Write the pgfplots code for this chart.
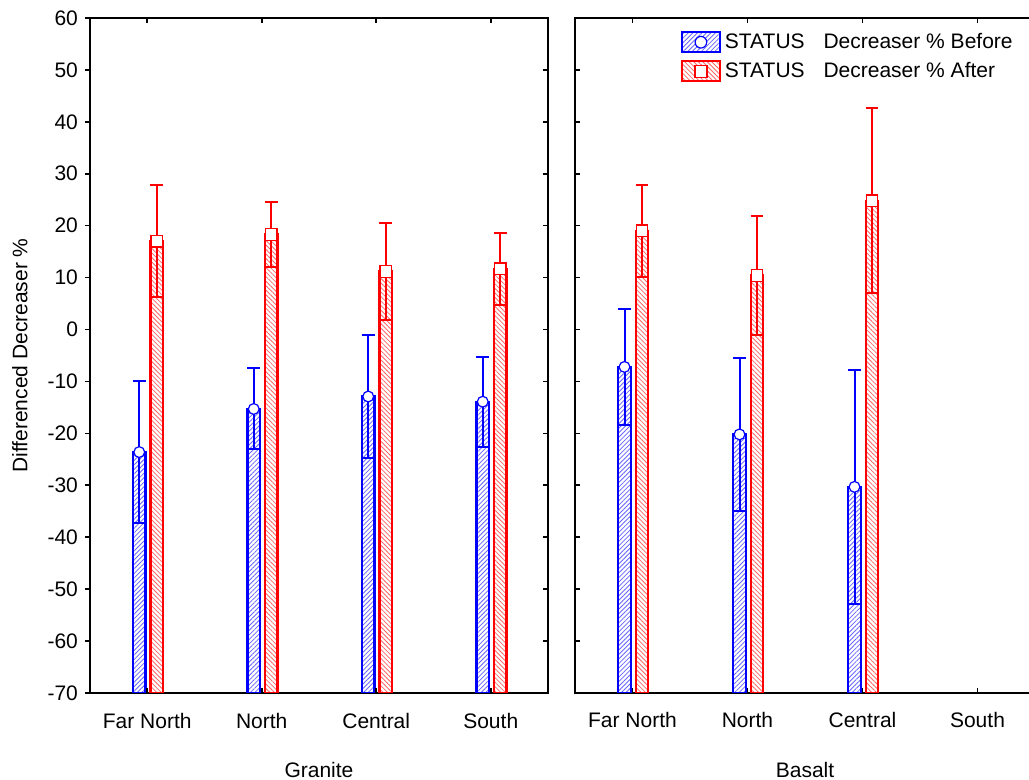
\documentclass[border=0pt]{standalone}
\usepackage{fontspec}
\setmainfont{Liberation Sans}
\usepackage{pgfplots}
\pgfplotsset{compat=1.18}
\usepackage{pgfplotstable}
\usetikzlibrary{patterns.meta}

% mean and half-width of the interval
\pgfplotstableread{
x mean err
0 -23.6 13.6
1 -15.3 7.8
2 -12.9 11.9
3 -13.9 8.7
}\granbefore
\pgfplotstableread{
x mean err
0 17.0 10.8
1 18.3 6.2
2 11.2 9.3
3 11.7 6.9
}\granafter
\pgfplotstableread{
x mean err
0 -7.2 11.2
1 -20.2 14.8
2 -30.3 22.5
}\basbefore
\pgfplotstableread{
x mean err
0 19.0 8.85
1 10.4 11.5
2 24.8 17.85
}\basafter

\newcommand\fnt{\fontsize{10.5}{12.6}\selectfont}

\pgfplotsset{
  panel/.style={
    width=229pt, height=337.5pt, scale only axis,
    xmin=-0.5, xmax=3.5, ymin=0, ymax=130,
    y filter/.expression={y+70},
    ytick={0,10,...,130},
    yticklabels={-70,-60,-50,-40,-30,-20,-10,0,10,20,30,40,50,60},
    xtick={0,1,2,3},
    xticklabels={Far North,North,Central,South},
    major tick length=2.5pt,
    axis line style={line width=1pt},
    every tick/.style={black, line width=0.8pt},
    tick label style={font=\fnt},
    label style={font=\fnt},
    /pgf/number format/assume math mode=true,
    xlabel style={at={(axis description cs:0.5,-0.114)}, anchor=center},
  },
  before/.style={ybar, bar width=6.25pt, bar shift=0pt, xshift=-4pt,
    draw=blue, line width=1.1pt,
    pattern={Lines[angle=45,distance=1.6pt,line width=0.4pt]}, pattern color=blue!60,
    mark=*, mark size=2.7pt, mark options={solid, draw=blue, fill=white, line width=0.6pt},
    legend image code/.code={
      \draw[draw=blue, line width=1pt, pattern={Lines[angle=45,distance=1.6pt,line width=0.4pt]}, pattern color=blue!60] (2pt,-5pt) rectangle (21pt,5pt);
      \draw[blue, fill=white, line width=0.6pt] (11.5pt,0pt) circle (2.9pt);},
    error bars/.cd, y dir=both, y explicit,
    error bar style={blue, line width=1pt},
    error mark options={rotate=90, blue, line width=1pt, mark size=3.2pt}},
  after/.style={ybar, bar width=6.25pt, bar shift=0pt, xshift=4.75pt,
    draw=red, line width=1.1pt,
    pattern={Lines[angle=-45,distance=1.6pt,line width=0.4pt]}, pattern color=red!60,
    mark=square*, mark size=2.9pt, mark options={solid, draw=red, fill=white, line width=0.6pt},
    legend image code/.code={
      \draw[draw=red, line width=1pt, pattern={Lines[angle=-45,distance=1.6pt,line width=0.4pt]}, pattern color=red!60] (-6.75pt,-5pt) rectangle (12.25pt,5pt);
      \draw[red, fill=white, line width=0.6pt] (-0.2pt,-3pt) rectangle (5.8pt,3pt);},
    error bars/.cd, y dir=both, y explicit,
    error bar style={red, line width=1pt},
    error mark options={rotate=90, red, line width=1pt, mark size=3.2pt}},
}

\begin{document}
\begin{tikzpicture}
% Granite
\begin{axis}[panel, at={(0,0)}, anchor=south west,
    tick align=outside, ytick pos=left,
    major x tick style={draw=none},
    xticklabel style={yshift=-4pt},
    xlabel={Granite},
    ylabel={Differenced Decreaser \%},
    ylabel style={at={(axis description cs:-0.153,0.5)}, anchor=center},
]
\addplot[before] table[x=x, y=mean, y error=err] {\granbefore};
\addplot[after] table[x=x, y=mean, y error=err] {\granafter};
\end{axis}
% inward ticks of the Granite panel
\begin{axis}[panel, at={(0,0)}, anchor=south west,
    tick align=inside, ytick pos=right, xtick pos=both,
    yticklabels={}, xticklabels={}, axis line style={draw=none},
]
\end{axis}
% Basalt
\begin{axis}[panel, at={(242.5pt,0)}, anchor=south west, width=230pt,
    tick align=inside, ytick pos=left, xtick pos=both,
    yticklabels={},
    xticklabel style={yshift=-6pt},
    xlabel={Basalt},
    legend style={at={(rel axis cs:0.974,0.99)}, anchor=north east, draw=none, fill=none,
      font=\fnt, row sep=1.5pt, /tikz/every even column/.append style={column sep=0pt}},
    legend cell align=left,
]
\addplot[before] table[x=x, y=mean, y error=err] {\basbefore};
\addlegendentry{STATUS\hspace{0.9em}Decreaser \% Before}
\addplot[after] table[x=x, y=mean, y error=err] {\basafter};
\addlegendentry{STATUS\hspace{0.9em}Decreaser \% After}
\end{axis}
\pgfresetboundingbox
\path[use as bounding box] (-45pt,-43.5pt) rectangle (469.5pt,346.5pt);
\end{tikzpicture}
\end{document}
